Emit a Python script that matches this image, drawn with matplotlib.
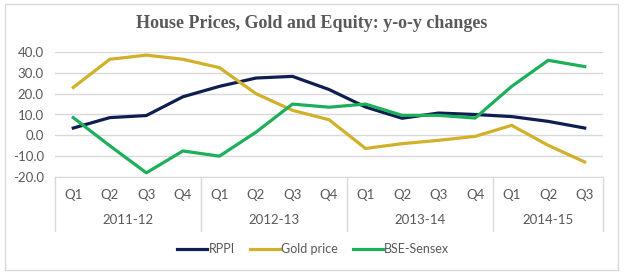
import matplotlib.pyplot as plt
from matplotlib.patches import Rectangle

# quarterly y-o-y changes (%)
quarters = ['Q1', 'Q2', 'Q3', 'Q4'] * 3 + ['Q1', 'Q2', 'Q3']
years = ['2011-12', '2012-13', '2013-14', '2014-15']
rppi = [3.5, 8.5, 9.5, 18.5, 23.5, 27.5, 28.3, 22.0, 13.6, 8.2, 10.7, 10.0, 9.0, 6.7, 3.5]
gold = [23.0, 36.5, 38.5, 36.5, 32.5, 20.0, 12.0, 7.5, -6.3, -4.0, -2.4, -0.5, 4.8, -4.8, -12.8]
sensex = [8.5, -5.0, -18.0, -7.5, -10.0, 1.5, 15.0, 13.5, 15.0, 9.6, 9.6, 8.3, 23.5, 36.0, 33.0]

grey = '#595959'
fig = plt.figure(figsize=(6.24, 2.76), dpi=100)
fig.patches.append(Rectangle((0.008, 0.02), 0.983, 0.965, transform=fig.transFigure,
                             fill=False, edgecolor='#D9D9D9', linewidth=1.0))
ax = fig.add_axes([55 / 624, 1 - 177 / 276, 548 / 624, 125 / 276])

x = list(range(len(quarters)))
ax.plot(x, rppi, color='#0E1E50', lw=2.3, label='RPPI')
ax.plot(x, gold, color='#D1B02A', lw=2.3, label='Gold price')
ax.plot(x, sensex, color='#1DAF5A', lw=2.3, label='BSE-Sensex')

ax.set_xlim(-0.5, len(quarters) - 0.5)
ax.set_ylim(-20, 40)
ax.set_yticks(range(-20, 41, 10))
ax.set_yticklabels(['%.1f' % v for v in range(-20, 41, 10)])
ax.yaxis.grid(True, color='#D9D9D9', lw=1)
ax.set_axisbelow(True)
for s in ['top', 'right', 'left']:
    ax.spines[s].set_visible(False)
ax.spines['bottom'].set_color('#D9D9D9')
ax.tick_params(axis='y', length=0, pad=8, labelsize=9.5, labelcolor=grey)
ax.set_xticks([])
for lab in ax.get_yticklabels():
    lab.set_fontfamily('Lato')

tr = ax.get_xaxis_transform()
for i, q in enumerate(quarters):
    ax.text(i, -0.145, q, transform=tr, ha='center', va='center', fontsize=9.5,
            color=grey, family='Lato')
starts = [0, 4, 8, 12]
ends = [4, 8, 12, 15]
for yr, a, b in zip(years, starts, ends):
    ax.text((a + b - 1) / 2, -0.345, yr, transform=tr, ha='center', va='center',
            fontsize=9.5, color=grey, family='Lato')
for b in [-0.5, 3.5, 7.5, 11.5, 14.5]:
    ax.plot([b, b], [0, -0.43], transform=tr, color='#D9D9D9', lw=1, clip_on=False)

fig.text(0.5, 0.915, 'House Prices, Gold and Equity: y-o-y changes', ha='center',
         va='center', fontsize=13, fontweight='bold', color=grey, family='Liberation Serif')
fig.legend(loc='center', bbox_to_anchor=(0.502, 0.098), ncol=3, frameon=False,
           prop={'family': 'Lato', 'size': 9}, labelcolor=grey, handlelength=2.4,
           handletextpad=0.1, columnspacing=1.2)

fig.savefig('out.png', dpi=100)
